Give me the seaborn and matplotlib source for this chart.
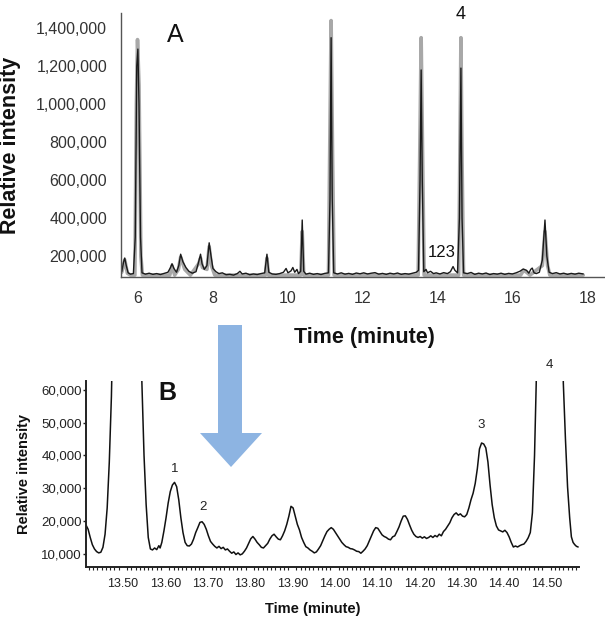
import matplotlib
matplotlib.use("Agg")
import matplotlib.pyplot as plt
from matplotlib.patches import Polygon
from matplotlib.ticker import FuncFormatter, MultipleLocator
import seaborn as sns

# ---- panel A: full chromatogram (time in minutes, relative intensity) ----
grey_time = [5.57, 5.65, 5.72, 5.80, 5.92, 5.96, 5.99, 6.03, 6.08, 6.12, 6.85, 6.91, 6.98,
             7.08, 7.14, 7.25, 7.40, 7.62, 7.67, 7.72, 7.84, 7.90, 7.96, 8.05, 9.40, 9.44,
             9.48, 10.34, 10.38, 10.42, 11.08, 11.11, 11.15, 11.19, 11.23, 13.47, 13.51,
             13.55, 13.59, 13.63, 14.55, 14.58, 14.61, 14.64, 14.68, 16.20, 16.28, 16.36,
             16.45, 16.78, 16.85, 16.92, 16.98, 17.87]
grey_int = [115000, 180000, 110000, 100000, 100000, 1000000, 1340000, 1100000, 200000, 100000,
            100000, 150000, 100000, 130000, 195000, 130000, 100000, 160000, 190000, 140000,
            130000, 250000, 150000, 100000, 100000, 190000, 100000, 100000, 330000, 100000,
            100000, 700000, 1440000, 700000, 100000, 100000, 700000, 1350000, 700000, 100000,
            100000, 700000, 1350000, 700000, 100000, 100000, 125000, 115000, 100000, 150000,
            330000, 150000, 100000, 100000]

black_time = [5.57, 5.62, 5.65, 5.69, 5.74, 5.80, 5.88, 5.93, 5.97, 6.00, 6.03, 6.07, 6.11,
              6.20, 6.30, 6.40, 6.50, 6.60, 6.70, 6.80, 6.87, 6.91, 6.96, 7.03, 7.09, 7.14,
              7.20, 7.28, 7.36, 7.45, 7.55, 7.62, 7.67, 7.71, 7.77, 7.84, 7.90, 7.95, 8.00,
              8.08, 8.16, 8.25, 8.35, 8.45, 8.55, 8.65, 8.72, 8.78, 8.88, 8.98, 9.08, 9.18,
              9.28, 9.38, 9.44, 9.49, 9.58, 9.68, 9.78, 9.88, 9.95, 10.00, 10.08, 10.13,
              10.18, 10.24, 10.28, 10.34, 10.38, 10.42, 10.48, 10.58, 10.68, 10.78, 10.88,
              10.98, 11.08, 11.12, 11.15, 11.18, 11.22, 11.32, 11.42, 11.52, 11.62, 11.72,
              11.82, 11.92, 12.02, 12.12, 12.22, 12.32, 12.42, 12.52, 12.62, 12.72, 12.82,
              12.92, 13.02, 13.12, 13.22, 13.32, 13.42, 13.48, 13.52, 13.55, 13.58, 13.62,
              13.68, 13.72, 13.80, 13.88, 13.95, 14.05, 14.15, 14.25, 14.33, 14.40, 14.45,
              14.52, 14.57, 14.61, 14.64, 14.68, 14.78, 14.88, 14.98, 15.08, 15.18, 15.28,
              15.38, 15.48, 15.58, 15.68, 15.78, 15.88, 15.98, 16.08, 16.18, 16.27, 16.36,
              16.42, 16.47, 16.51, 16.56, 16.62, 16.70, 16.78, 16.85, 16.90, 16.96, 17.05,
              17.15, 17.25, 17.35, 17.45, 17.55, 17.65, 17.75, 17.87]
black_int = [118000, 170000, 190000, 150000, 112000, 105000, 108000, 300000, 1200000, 1290000,
             1000000, 300000, 112000, 105000, 110000, 104000, 108000, 103000, 109000, 115000,
             140000, 160000, 135000, 115000, 150000, 210000, 170000, 140000, 120000, 110000,
             118000, 170000, 210000, 160000, 130000, 150000, 270000, 200000, 135000, 118000,
             108000, 112000, 102000, 104000, 100000, 108000, 120000, 106000, 110000, 102000,
             106000, 103000, 108000, 112000, 210000, 115000, 106000, 104000, 108000, 115000,
             135000, 112000, 122000, 140000, 115000, 130000, 108000, 120000, 390000, 120000,
             105000, 110000, 104000, 108000, 103000, 109000, 112000, 500000, 1350000, 500000,
             112000, 106000, 112000, 105000, 109000, 104000, 111000, 107000, 112000, 106000,
             110000, 113000, 105000, 109000, 104000, 110000, 106000, 111000, 104000, 108000,
             105000, 110000, 115000, 125000, 600000, 1180000, 600000, 118000, 130000, 112000,
             120000, 108000, 112000, 106000, 113000, 108000, 118000, 145000, 125000, 112000,
             400000, 1190000, 400000, 112000, 108000, 114000, 104000, 110000, 106000, 111000,
             103000, 108000, 105000, 110000, 104000, 109000, 106000, 112000, 120000, 132000,
             125000, 110000, 130000, 137000, 112000, 108000, 115000, 180000, 390000, 200000,
             115000, 108000, 113000, 106000, 110000, 104000, 109000, 105000, 110000, 106000]

top_xticks = [6, 8, 10, 12, 14, 16, 18]
top_yticks = [200000, 400000, 600000, 800000, 1000000, 1200000, 1400000]

# ---- panel B: zoom 13.41 - 14.58 min ----
zoom_time = [13.413, 13.418, 13.423, 13.428, 13.433, 13.438, 13.443, 13.448, 13.453, 13.458,
             13.463, 13.468, 13.473, 13.478, 13.490, 13.510, 13.530, 13.540, 13.545, 13.550,
             13.555, 13.560, 13.565, 13.570, 13.575, 13.580, 13.585, 13.588, 13.592, 13.597,
             13.602, 13.607, 13.612, 13.617, 13.622, 13.627, 13.632, 13.637, 13.642, 13.647,
             13.652, 13.657, 13.662, 13.667, 13.672, 13.677, 13.682, 13.687, 13.692, 13.697,
             13.702, 13.707, 13.712, 13.717, 13.722, 13.727, 13.732, 13.737, 13.742, 13.747,
             13.752, 13.757, 13.762, 13.767, 13.772, 13.777, 13.782, 13.787, 13.792, 13.797,
             13.802, 13.807, 13.812, 13.817, 13.822, 13.827, 13.832, 13.837, 13.842, 13.847,
             13.852, 13.857, 13.862, 13.867, 13.872, 13.877, 13.882, 13.887, 13.892, 13.897,
             13.902, 13.907, 13.912, 13.917, 13.922, 13.927, 13.932, 13.937, 13.942, 13.947,
             13.952, 13.957, 13.962, 13.967, 13.972, 13.977, 13.982, 13.987, 13.992, 13.997,
             14.002, 14.007, 14.012, 14.017, 14.022, 14.027, 14.032, 14.037, 14.042, 14.047,
             14.052, 14.057, 14.062, 14.067, 14.072, 14.077, 14.082, 14.087, 14.092, 14.097,
             14.102, 14.107, 14.112, 14.117, 14.122, 14.127, 14.132, 14.137, 14.142, 14.147,
             14.152, 14.157, 14.162, 14.167, 14.172, 14.177, 14.182, 14.187, 14.192, 14.197,
             14.202, 14.207, 14.212, 14.217, 14.222, 14.227, 14.232, 14.237, 14.242, 14.247,
             14.252, 14.257, 14.262, 14.267, 14.272, 14.277, 14.282, 14.287, 14.292, 14.297,
             14.302, 14.307, 14.312, 14.317, 14.322, 14.327, 14.332, 14.337, 14.342, 14.347,
             14.352, 14.357, 14.362, 14.367, 14.372, 14.377, 14.382, 14.387, 14.392, 14.397,
             14.402, 14.407, 14.412, 14.417, 14.422, 14.427, 14.432, 14.437, 14.442, 14.447,
             14.452, 14.457, 14.462, 14.467, 14.472, 14.476, 14.480, 14.505, 14.535, 14.540,
             14.545, 14.550, 14.555, 14.559, 14.563, 14.567, 14.571, 14.575]
zoom_int = [18800, 17500, 15000, 12800, 11500, 10700, 10300, 10500, 12000, 16000,
            24000, 38000, 58000, 90000, 200000, 300000, 200000, 90000, 62000, 40000,
            25000, 15000, 11500, 11200, 11800, 11300, 12500, 11800, 13500, 17000,
            21000, 25500, 29000, 31000, 31800, 30500, 26500, 21000, 16500, 13500,
            12500, 12400, 13000, 14500, 16500, 18000, 19600, 19800, 19000, 17500,
            15500, 13800, 13000, 12300, 11800, 12300, 11600, 12000, 11200, 11500,
            10800, 10200, 10600, 9800, 10300, 9700, 10000, 10800, 11800, 13200,
            14600, 15300, 14500, 13500, 12800, 12000, 11800, 12500, 13200, 14500,
            15500, 16000, 15200, 14500, 14300, 15500, 17000, 19000, 21500, 24500,
            24000, 21500, 19000, 17300, 15000, 13500, 12200, 11800, 11200, 10800,
            10300, 10600, 11500, 12500, 14000, 15500, 16800, 17500, 18000, 17500,
            16500, 15500, 14500, 13500, 12800, 12200, 12000, 11600, 11500, 11200,
            10800, 10700, 10200, 10800, 11500, 12500, 14000, 15500, 17000, 18000,
            17800, 16800, 15800, 15300, 15000, 14500, 14300, 15200, 15500, 16800,
            18200, 20000, 21500, 21600, 20500, 18800, 17200, 16000, 15300, 15000,
            15300, 14800, 15200, 14700, 15000, 15500, 15000, 15600, 15200, 16000,
            15500, 16800, 17500, 18500, 19500, 21000, 22000, 22500, 21800, 22200,
            21500, 21300, 22000, 24000, 26500, 28500, 31500, 36000, 42000, 43800,
            43500, 42300, 38000, 31000, 25000, 21000, 18500, 17300, 17000, 16700,
            17200, 16500, 15200, 13500, 12100, 12400, 12100, 12500, 12800, 13000,
            13800, 14900, 16500, 22500, 40000, 62000, 100000, 250000, 100000, 62000,
            45000, 30400, 21000, 15200, 13500, 12800, 12300, 12100]

zoom_xticks = [13.5, 13.6, 13.7, 13.8, 13.9, 14.0, 14.1, 14.2, 14.3, 14.4, 14.5]
zoom_yticks = [10000, 20000, 30000, 40000, 50000, 60000]

peak_labels = ["1", "2", "3", "4"]
peak_label_time = [13.622, 13.690, 14.347, 14.506]
peak_label_int = [35900, 24300, 49300, 67600]

sns.set_theme(style="white")
plt.rcParams["font.family"] = ["Liberation Sans", "DejaVu Sans"]

comma = FuncFormatter(lambda v, p: f"{int(v):,}")

fig = plt.figure(figsize=(6.05, 6.29), dpi=100)
W, H = 605, 629

# top panel
ax1 = fig.add_axes([121 / W, 1 - 277 / H, 484 / W, 264 / H])
sns.lineplot(x=grey_time, y=grey_int, ax=ax1, color="#a8a8a8", linewidth=2.6,
             estimator=None, sort=False)
sns.lineplot(x=black_time, y=black_int, ax=ax1, color="#1a1a1a", linewidth=1.0,
             estimator=None, sort=False)
ax1.set_xlim(5.55, 18.45)
ax1.set_ylim(90000, 1480000)
ax1.set_xticks(top_xticks)
ax1.set_yticks(top_yticks)
ax1.yaxis.set_major_formatter(comma)
ax1.tick_params(axis="both", length=0, labelsize=11.5, colors="#333333", pad=10)
for s in ["top", "right"]:
    ax1.spines[s].set_visible(False)
for s in ["left", "bottom"]:
    ax1.spines[s].set_color("#555555")
    ax1.spines[s].set_linewidth(1.0)
ax1.set_ylabel("Relative intensity", fontsize=15.5, fontweight="bold", color="#111111")
ax1.yaxis.set_label_coords(-0.207, 0.50)
ax1.set_xlabel("Time (minute)", fontsize=15.5, fontweight="bold", color="#111111")
ax1.xaxis.set_label_coords(0.504, -0.19)
ax1.text(6.99, 1364000, "A", fontsize=18, ha="center", va="center", color="#111111")
ax1.text(14.61, 1474000, "4", fontsize=13, ha="center", va="center", color="#111111",
         clip_on=False)
ax1.text(14.10, 221000, "123", fontsize=12, ha="center", va="center", color="#111111")

# bottom panel
ax2 = fig.add_axes([86 / W, 1 - 567 / H, 493 / W, 186 / H])
sns.lineplot(x=zoom_time, y=zoom_int, ax=ax2, color="#111111", linewidth=1.1,
             estimator=None, sort=False)
ax2.set_xlim(13.413, 14.577)
ax2.set_ylim(6000, 62700)
ax2.set_xticks(zoom_xticks)
ax2.set_xticklabels([f"{v:.2f}" for v in zoom_xticks])
ax2.xaxis.set_minor_locator(MultipleLocator(0.01))
ax2.set_yticks(zoom_yticks)
ax2.yaxis.set_major_formatter(comma)
ax2.tick_params(axis="x", which="major", direction="out", length=3, width=1,
                labelsize=9, pad=5, colors="#222222")
ax2.tick_params(axis="x", which="minor", direction="out", length=2, width=0.8,
                bottom=True, colors="#222222")
ax2.tick_params(axis="y", which="major", direction="out", length=2, width=1,
                labelsize=9.5, pad=1, colors="#222222", left=True)
for s in ["top", "right"]:
    ax2.spines[s].set_visible(False)
for s in ["left", "bottom"]:
    ax2.spines[s].set_color("#222222")
    ax2.spines[s].set_linewidth(1.4)
ax2.set_ylabel("Relative intensity", fontsize=10.5, fontweight="bold", color="#111111")
ax2.yaxis.set_label_coords(-0.112, 0.50)
ax2.set_xlabel("Time (minute)", fontsize=10.5, fontweight="bold", color="#111111")
ax2.xaxis.set_label_coords(0.46, -0.19)
ax2.text(13.604, 59100, "B", fontsize=18, fontweight="bold", ha="center", va="center",
         color="#111111", clip_on=False)
for lab, t, v in zip(peak_labels, peak_label_time, peak_label_int):
    ax2.text(t, v, lab, fontsize=9.5, ha="center", va="center", color="#222222",
             clip_on=False)

# blue arrow between the panels
arrow_px = [(218, 325), (242, 325), (242, 433), (262, 433), (231, 467), (200, 433), (218, 433)]
fig.patches.append(Polygon([(x / W, 1 - y / H) for x, y in arrow_px], closed=True,
                           transform=fig.transFigure, facecolor="#8db4e2",
                           edgecolor="none"))

fig.savefig("out.png", dpi=100)
